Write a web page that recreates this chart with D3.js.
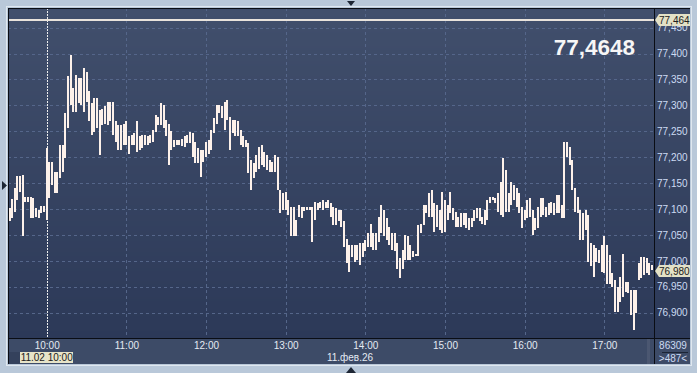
<!DOCTYPE html>
<html>
<head>
<meta charset="utf-8">
<script src="https://cdn.jsdelivr.net/npm/d3@7"></script>
<style>
  body { margin: 0; background: #b9c8d9; }
  svg { display: block; font-family: "Liberation Sans", Arial, sans-serif; }
</style>
</head>
<body>
<svg id="chart" width="697" height="373"></svg>
<script>
// 2-minute bars, first bar 09:32 on 11.02.2026
var startTime = new Date(2026, 1, 11, 9, 32);
var stepMinutes = 2;

var highs = [
  77.101, 77.119, 77.140, 77.164, 77.164, 77.166, 77.124, 77.124, 77.124, 77.121,
  77.101, 77.098, 77.105, 77.105, 77.217, 77.191, 77.191, 77.172, 77.172, 77.224,
  77.224, 77.285, 77.356, 77.397, 77.333, 77.359, 77.352, 77.352, 77.372, 77.365,
  77.327, 77.304, 77.314, 77.314, 77.291, 77.294, 77.298, 77.307, 77.307, 77.307,
  77.269, 77.262, 77.262, 77.265, 77.269, 77.240, 77.243, 77.246, 77.269, 77.240,
  77.243, 77.243, 77.240, 77.243, 77.253, 77.281, 77.278, 77.304, 77.301, 77.272,
  77.265, 77.250, 77.233, 77.233, 77.233, 77.236, 77.240, 77.243, 77.249, 77.246,
  77.230, 77.217, 77.214, 77.214, 77.230, 77.233, 77.252, 77.275, 77.301, 77.301,
  77.298, 77.307, 77.310, 77.278, 77.272, 77.272, 77.269, 77.252, 77.240, 77.233,
  77.227, 77.195, 77.188, 77.204, 77.220, 77.224, 77.211, 77.204, 77.195, 77.191,
  77.204, 77.201, 77.137, 77.130, 77.133, 77.117, 77.104, 77.104, 77.079, 77.108,
  77.104, 77.104, 77.104, 77.104, 77.104, 77.114, 77.112, 77.114, 77.117, 77.114,
  77.117, 77.111, 77.104, 77.101, 77.098, 77.098, 77.076, 77.043, 77.030, 77.030,
  77.030, 77.030, 77.034, 77.034, 77.040, 77.053, 77.072, 77.053, 77.053, 77.085,
  77.108, 77.098, 77.082, 77.066, 77.053, 77.053, 77.034, 77.005, 77.021, 77.050,
  77.047, 77.030, 77.018, 77.014, 77.069, 77.072, 77.108, 77.108, 77.130, 77.137,
  77.111, 77.108, 77.098, 77.133, 77.117, 77.108, 77.133, 77.101, 77.095, 77.085,
  77.092, 77.092, 77.092, 77.082, 77.082, 77.098, 77.101, 77.101, 77.085, 77.098,
  77.117, 77.124, 77.124, 77.121, 77.130, 77.153, 77.198, 77.175, 77.130, 77.153,
  77.146, 77.140, 77.130, 77.104, 77.098, 77.117, 77.121, 77.098, 77.082, 77.104,
  77.121, 77.121, 77.104, 77.111, 77.114, 77.111, 77.127, 77.127, 77.108, 77.230,
  77.230, 77.220, 77.195, 77.140, 77.124, 77.098, 77.092, 77.098, 77.088, 77.034,
  77.030, 77.024, 77.021, 77.030, 77.047, 77.030, 77.011, 76.976, 76.963, 76.950,
  76.969, 77.014, 76.960, 76.960, 76.944, 76.944, 76.944, 76.995, 77.008, 77.008,
  77.005, 76.995, 76.992
];

var lows = [
  77.076, 77.082, 77.095, 77.117, 77.133, 77.047, 77.114, 77.114, 77.082, 77.082,
  77.085, 77.082, 77.092, 77.095, 77.079, 77.121, 77.146, 77.130, 77.130, 77.159,
  77.172, 77.198, 77.256, 77.301, 77.288, 77.288, 77.304, 77.301, 77.288, 77.307,
  77.269, 77.243, 77.249, 77.256, 77.204, 77.262, 77.265, 77.262, 77.269, 77.243,
  77.230, 77.214, 77.214, 77.224, 77.224, 77.207, 77.224, 77.224, 77.211, 77.214,
  77.217, 77.224, 77.224, 77.227, 77.230, 77.249, 77.262, 77.262, 77.256, 77.240,
  77.185, 77.214, 77.219, 77.224, 77.224, 77.222, 77.220, 77.227, 77.227, 77.201,
  77.188, 77.188, 77.162, 77.191, 77.201, 77.207, 77.214, 77.246, 77.265, 77.285,
  77.275, 77.252, 77.272, 77.214, 77.246, 77.240, 77.240, 77.224, 77.220, 77.219,
  77.169, 77.137, 77.159, 77.172, 77.178, 77.185, 77.182, 77.175, 77.172, 77.172,
  77.172, 77.137, 77.092, 77.098, 77.098, 77.088, 77.047, 77.047, 77.047, 77.085,
  77.082, 77.097, 77.098, 77.098, 77.037, 77.079, 77.098, 77.101, 77.098, 77.101,
  77.101, 77.085, 77.069, 77.069, 77.076, 77.066, 77.027, 76.995, 76.979, 77.008,
  76.998, 77.002, 76.992, 77.008, 77.018, 77.027, 77.027, 77.021, 77.021, 77.037,
  77.053, 77.047, 77.040, 77.030, 77.021, 77.018, 76.985, 76.966, 76.985, 77.002,
  77.002, 77.002, 77.008, 77.009, 77.009, 77.053, 77.069, 77.092, 77.085, 77.085,
  77.056, 77.066, 77.060, 77.053, 77.056, 77.079, 77.092, 77.079, 77.066, 77.066,
  77.066, 77.069, 77.063, 77.060, 77.066, 77.076, 77.082, 77.076, 77.072, 77.069,
  77.079, 77.111, 77.117, 77.111, 77.095, 77.088, 77.085, 77.095, 77.095, 77.108,
  77.117, 77.104, 77.092, 77.063, 77.079, 77.082, 77.085, 77.050, 77.059, 77.063,
  77.085, 77.088, 77.085, 77.088, 77.092, 77.088, 77.092, 77.092, 77.082, 77.082,
  77.201, 77.185, 77.137, 77.095, 77.092, 77.040, 77.040, 77.059, 76.998, 76.989,
  76.969, 76.998, 76.995, 76.979, 76.976, 76.956, 76.956, 76.950, 76.902, 76.902,
  76.921, 76.931, 76.940, 76.937, 76.895, 76.866, 76.899, 76.963, 76.966, 76.973,
  76.976, 76.973, 76.982
];

var priceTicks = d3.range(76.9, 77.4501, 0.05);
var hourTicks = [10, 11, 12, 13, 14, 15, 16, 17];
var lastPrice = 76.980;
var topPrice = 77.464;
var bigQuote = "77,4648";
var dateLabel = "11.фев.26";
var cursorLabel = "11.02 10:00";
var volumeLabel = "86309";
var countLabel = ">487<";

var svg = d3.select("#chart");

// panel geometry (plotTop, not "top": window.top is read-only)
var plotLeft = 8, plotTop = 8, plotRight = 654, panelRight = 690, plotBottom = 338, panelBottom = 364;

var day = function(h, m) { return new Date(2026, 1, 11, h, m || 0); };

var x = d3.scaleTime()
    .domain([day(10), day(17)])
    .range([46.7, 604.3]);

var y = d3.scaleLinear()
    .domain([76.9, 77.45])
    .range([312.6, 27.7]);

var fmt = function(v, n) { return v.toFixed(n).replace(".", ","); };

// outer light frame
svg.append("rect")
    .attr("x", plotLeft - 1.5).attr("y", plotTop - 1.5)
    .attr("width", panelRight - plotLeft + 3).attr("height", panelBottom - plotTop + 3)
    .attr("fill", "none").attr("stroke", "#dfe7ef");

// background: vertical gradient drawn as 1px strips
var bgColor = d3.interpolateRgb("#414f6c", "#2c3958");
svg.append("g").selectAll("rect")
  .data(d3.range(plotTop, plotBottom))
  .enter().append("rect")
    .attr("x", plotLeft).attr("y", d => d)
    .attr("width", panelRight - plotLeft).attr("height", 1)
    .attr("fill", d => bgColor((d - plotTop) / (plotBottom - plotTop)));

svg.append("rect")
    .attr("x", plotLeft).attr("y", plotBottom)
    .attr("width", panelRight - plotLeft).attr("height", panelBottom - plotBottom)
    .attr("fill", "#3d4b67");
svg.append("rect")
    .attr("x", plotLeft).attr("y", 352)
    .attr("width", 12).attr("height", 12)
    .attr("fill", "#34415c");
svg.append("rect")
    .attr("x", 647).attr("y", plotBottom)
    .attr("width", 3).attr("height", panelBottom - plotBottom)
    .attr("fill", "#4b5771");

// grid
var grid = svg.append("g").attr("stroke", "#55668a").attr("stroke-dasharray", "3,3");
grid.selectAll(".hg")
  .data(priceTicks)
  .enter().append("line")
    .attr("x1", plotLeft).attr("x2", plotRight)
    .attr("y1", d => Math.round(y(d)) + 0.5)
    .attr("y2", d => Math.round(y(d)) + 0.5);
grid.selectAll(".vg")
  .data(hourTicks.slice(1))
  .enter().append("line")
    .attr("x1", d => Math.round(x(day(d))) + 0.5)
    .attr("x2", d => Math.round(x(day(d))) + 0.5)
    .attr("y1", plotTop).attr("y2", plotBottom);

// crosshair at 10:00
svg.append("line")
    .attr("x1", Math.round(x(day(10))) + 0.5).attr("x2", Math.round(x(day(10))) + 0.5)
    .attr("y1", plotTop).attr("y2", plotBottom)
    .attr("stroke", "#eeeeee").attr("stroke-dasharray", "2,1");

// high line
svg.append("line")
    .attr("x1", plotLeft).attr("x2", plotRight)
    .attr("y1", Math.round(y(topPrice))).attr("y2", Math.round(y(topPrice)))
    .attr("stroke", "#e9e3dc").attr("stroke-width", 2);

// bars
var bars = highs.map((h, i) => ({
  t: d3.timeMinute.offset(startTime, i * stepMinutes),
  high: h,
  low: lows[i]
}));

svg.append("g")
  .selectAll("rect")
  .data(bars)
  .enter().append("rect")
    .attr("x", d => Math.round(x(d.t)) - 1)
    .attr("width", 2)
    .attr("y", d => Math.round(y(d.high)))
    .attr("height", d => Math.max(2, Math.round(y(d.low)) - Math.round(y(d.high))))
    .attr("fill", "#fdf1ea");

// frame lines
var frame = svg.append("g").attr("stroke", "#0a0d14");
frame.append("line").attr("x1", plotLeft + 0.5).attr("x2", plotLeft + 0.5).attr("y1", plotTop).attr("y2", panelBottom);
frame.append("line").attr("x1", plotLeft).attr("x2", panelRight).attr("y1", plotTop + 0.5).attr("y2", plotTop + 0.5);
frame.append("line").attr("x1", plotRight + 0.5).attr("x2", plotRight + 0.5).attr("y1", plotTop).attr("y2", panelBottom);
frame.append("line").attr("x1", plotLeft).attr("x2", panelRight).attr("y1", plotBottom + 0.5).attr("y2", plotBottom + 0.5);

// price axis
var yAxis = d3.axisRight(y)
    .tickValues(priceTicks)
    .tickSize(0)
    .tickPadding(3)
    .tickFormat(d => fmt(d, 3));
svg.append("g")
    .attr("transform", "translate(" + plotRight + ",0)")
    .call(yAxis)
    .call(g => g.select(".domain").remove())
    .call(g => g.selectAll("text")
        .attr("fill", "#cddbf3")
        .style("font-size", "10px")
        .style("font-family", "Liberation Sans, Arial, sans-serif"));

// time axis
var xAxis = d3.axisBottom(x)
    .tickValues(hourTicks.map(h => day(h)))
    .tickSize(0)
    .tickPadding(4)
    .tickFormat(d3.timeFormat("%H:%M"));
svg.append("g")
    .attr("transform", "translate(0," + plotBottom + ")")
    .call(xAxis)
    .call(g => g.select(".domain").remove())
    .call(g => g.selectAll("text")
        .attr("fill", "#e4eaf3")
        .style("font-size", "10px")
        .style("font-family", "Liberation Sans, Arial, sans-serif"));

svg.append("text")
    .attr("x", 350).attr("y", 361)
    .attr("text-anchor", "middle")
    .attr("fill", "#e4eaf3").style("font-size", "10px")
    .text(dateLabel);

// cursor time label
svg.append("rect")
    .attr("x", 20).attr("y", 352).attr("width", 53).attr("height", 11)
    .attr("fill", "#e7e4c9");
svg.append("text")
    .attr("x", x(day(10))).attr("y", 361)
    .attr("text-anchor", "middle")
    .attr("fill", "#1a1a1a").style("font-size", "10px")
    .text(cursorLabel);

// price markers on the axis
function priceMarker(v) {
  var cy = Math.round(y(v));
  svg.append("path")
      .attr("d", "M" + (plotRight + 1) + "," + cy + "L" + (plotRight + 5) + "," + (cy - 6) +
                 "L" + panelRight + "," + (cy - 6) + "L" + panelRight + "," + (cy + 6) +
                 "L" + (plotRight + 5) + "," + (cy + 6) + "Z")
      .attr("fill", "#e3e1c6");
  svg.append("text")
      .attr("x", plotRight + 5).attr("y", cy + 4)
      .attr("fill", "#202020").style("font-size", "10px")
      .text(fmt(v, 3));
}
priceMarker(topPrice);
priceMarker(lastPrice);

// big quote
svg.append("text")
    .attr("x", 635).attr("y", 55)
    .attr("text-anchor", "end")
    .attr("fill", "#f6f6f6")
    .style("font-size", "22.5px").style("font-weight", "bold")
    .text(bigQuote);

// volume / count
svg.append("text")
    .attr("x", 673).attr("y", 349).attr("text-anchor", "middle")
    .attr("fill", "#cddbf3").style("font-size", "10px")
    .text(volumeLabel);
svg.append("line")
    .attr("x1", 662).attr("x2", 688).attr("y1", 352.5).attr("y2", 352.5)
    .attr("stroke", "#1c2536");
svg.append("text")
    .attr("x", 673).attr("y", 362).attr("text-anchor", "middle")
    .attr("fill", "#cddbf3").style("font-size", "10px")
    .text(countLabel);

// small scroll triangles
svg.append("path").attr("d", "M347,1L355,1L351,6Z").attr("fill", "#1d2634");
svg.append("path").attr("d", "M346,373L356,373L351,367Z").attr("fill", "#1d2634");
svg.append("path").attr("d", "M2,181L7,185.5L2,190Z").attr("fill", "#1d2634");
</script>
</body>
</html>
